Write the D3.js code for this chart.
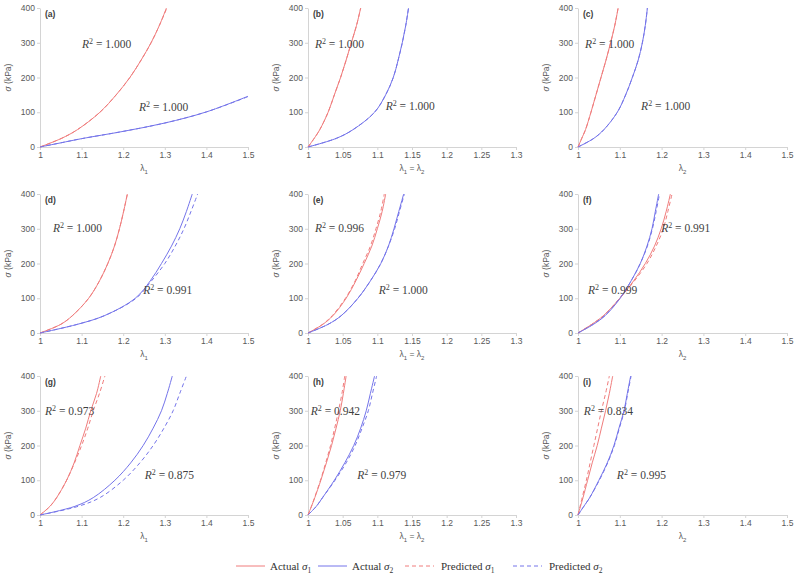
<!DOCTYPE html>
<html>
<head>
<meta charset="utf-8">
<script src="https://cdn.jsdelivr.net/npm/d3@7"></script>
<style>
  body { margin: 0; background: #fff; }
  svg { font-family: "Liberation Sans", Arial, sans-serif; }
  .tick text { fill: #595959; font-size: 8.5px; }
  .domain, .tick line { stroke: #d4d4d4; }
  .r2 { font-family: "Liberation Serif", serif; font-size: 11.5px; fill: #3f3f3f; }
  .leg { font-family: "Liberation Serif", serif; font-size: 11px; fill: #333; }
</style>
</head>
<body>
<script>
"use strict";

var sigmaGrid = [0, 25, 50, 100, 150, 200, 250, 300, 350, 400];

// panel (a): uniaxial lambda_1, blue curve stops at lambda = 1.5
var a_act1  = [1, 1.052, 1.09, 1.144, 1.183, 1.216, 1.243, 1.267, 1.287, 1.304];
var a_pred1 = [1, 1.052, 1.09, 1.144, 1.183, 1.216, 1.243, 1.267, 1.287, 1.305];
var a_lam2  = [1, 1.05, 1.1, 1.2, 1.3, 1.4, 1.5];
var a_act2  = [0, 12, 24, 45, 69, 101, 146];
var a_pred2 = [0, 12, 24, 45, 69, 101, 145];

var b_act1  = [1, 1.009, 1.017, 1.029, 1.038, 1.047, 1.055, 1.0625, 1.070, 1.076];
var b_pred1 = [1, 1.009, 1.017, 1.029, 1.038, 1.047, 1.055, 1.0625, 1.070, 1.076];
var b_act2  = [1, 1.041, 1.065, 1.096, 1.112, 1.123, 1.130, 1.136, 1.141, 1.145];
var b_pred2 = [1, 1.041, 1.065, 1.096, 1.112, 1.123, 1.130, 1.136, 1.141, 1.145];

var c_act1  = [1, 1.009, 1.018, 1.031, 1.043, 1.055, 1.067, 1.078, 1.088, 1.096];
var c_pred1 = [1, 1.009, 1.018, 1.031, 1.043, 1.055, 1.067, 1.078, 1.088, 1.096];
var c_act2  = [1, 1.038, 1.062, 1.094, 1.114, 1.130, 1.144, 1.154, 1.161, 1.166];
var c_pred2 = [1, 1.038, 1.062, 1.094, 1.114, 1.130, 1.144, 1.154, 1.161, 1.166];

var d_act1  = [1, 1.050, 1.078, 1.117, 1.143, 1.163, 1.179, 1.191, 1.201, 1.210];
var d_pred1 = [1, 1.050, 1.078, 1.117, 1.143, 1.163, 1.179, 1.191, 1.201, 1.210];
var d_act2  = [1, 1.09, 1.155, 1.229, 1.265, 1.292, 1.316, 1.336, 1.352, 1.366];
var d_pred2 = [1, 1.09, 1.155, 1.231, 1.268, 1.300, 1.325, 1.346, 1.363, 1.379];

var e_act1  = [1, 1.0215, 1.036, 1.055, 1.069, 1.081, 1.092, 1.100, 1.107, 1.112];
var e_pred1 = [1, 1.021, 1.035, 1.054, 1.068, 1.079, 1.090, 1.098, 1.105, 1.110];
var e_act2  = [1, 1.029, 1.048, 1.072, 1.090, 1.105, 1.116, 1.124, 1.131, 1.138];
var e_pred2 = [1, 1.029, 1.048, 1.072, 1.090, 1.105, 1.116, 1.125, 1.132, 1.139];

var f_act1  = [1, 1.033, 1.061, 1.100, 1.133, 1.161, 1.183, 1.199, 1.211, 1.221];
var f_pred1 = [1, 1.033, 1.061, 1.100, 1.135, 1.165, 1.187, 1.204, 1.215, 1.225];
var f_act2  = [1, 1.037, 1.065, 1.101, 1.127, 1.149, 1.165, 1.177, 1.185, 1.193];
var f_pred2 = [1, 1.036, 1.064, 1.100, 1.127, 1.149, 1.166, 1.178, 1.187, 1.195];

var g_act1  = [1, 1.024, 1.040, 1.064, 1.082, 1.096, 1.110, 1.122, 1.136, 1.146];
var g_pred1 = [1, 1.024, 1.040, 1.064, 1.083, 1.100, 1.115, 1.128, 1.143, 1.156];
var g_act2  = [1, 1.084, 1.128, 1.180, 1.218, 1.248, 1.272, 1.292, 1.306, 1.318];
var g_pred2 = [1, 1.092, 1.144, 1.200, 1.240, 1.272, 1.298, 1.320, 1.336, 1.352];

var h_act1  = [1, 1.005, 1.0098, 1.0185, 1.0265, 1.034, 1.0405, 1.0465, 1.051, 1.055];
var h_pred1 = [1, 1.005, 1.0095, 1.018, 1.0255, 1.0325, 1.0385, 1.044, 1.049, 1.053];
var h_act2  = [1, 1.012, 1.021, 1.038, 1.053, 1.066, 1.076, 1.084, 1.090, 1.096];
var h_pred2 = [1, 1.012, 1.021, 1.039, 1.055, 1.068, 1.078, 1.087, 1.093, 1.099];

var i_act1  = [1, 1.006, 1.012, 1.023, 1.034, 1.046, 1.056, 1.066, 1.075, 1.083];
var i_pred1 = [1, 1.005, 1.010, 1.020, 1.029, 1.038, 1.047, 1.056, 1.066, 1.075];
var i_act2  = [1, 1.014, 1.028, 1.050, 1.070, 1.086, 1.098, 1.110, 1.118, 1.126];
var i_pred2 = [1, 1.014, 1.028, 1.051, 1.071, 1.087, 1.099, 1.111, 1.119, 1.127];

var panelNames = ["a", "b", "c", "d", "e", "f", "g", "h", "i"];
// R^2 text: [upper label, lower label]
var r2Values = [
    ["1.000", "1.000"], ["1.000", "1.000"], ["1.000", "1.000"],
    ["1.000", "0.991"], ["0.996", "1.000"], ["0.991", "0.999"],
    ["0.973", "0.875"], ["0.942", "0.979"], ["0.834", "0.995"]
];
// where the R^2 labels sit, in (lambda, sigma)
var r2Anchors = [
    [[1.101, 285], [1.238, 104]], [[1.010, 285], [1.112, 106]], [[1.017, 285], [1.151, 106]],
    [[1.031, 290], [1.248, 113]], [[1.010, 290], [1.102, 113]], [[1.199, 290], [1.024, 113]],
    [[1.012, 288], [1.252, 104]], [[1.004, 288], [1.071, 104]], [[1.014, 288], [1.093, 104]]
];
var xDomains = [[1, 1.5], [1, 1.3], [1, 1.5]];
var yTicks = [0, 100, 200, 300, 400];
var legendLabels = ["Actual", "Actual", "Predicted", "Predicted"];

var red = "#f07c7c", blue = "#7474ea";

function zipGrid(lams, sigs) {
    return lams.map(function(l, k) { return [l, sigs[k]]; });
}

var curves = {
    a: [zipGrid(a_act1, sigmaGrid), zipGrid(a_lam2, a_act2), zipGrid(a_pred1, sigmaGrid), zipGrid(a_lam2, a_pred2)],
    b: [zipGrid(b_act1, sigmaGrid), zipGrid(b_act2, sigmaGrid), zipGrid(b_pred1, sigmaGrid), zipGrid(b_pred2, sigmaGrid)],
    c: [zipGrid(c_act1, sigmaGrid), zipGrid(c_act2, sigmaGrid), zipGrid(c_pred1, sigmaGrid), zipGrid(c_pred2, sigmaGrid)],
    d: [zipGrid(d_act1, sigmaGrid), zipGrid(d_act2, sigmaGrid), zipGrid(d_pred1, sigmaGrid), zipGrid(d_pred2, sigmaGrid)],
    e: [zipGrid(e_act1, sigmaGrid), zipGrid(e_act2, sigmaGrid), zipGrid(e_pred1, sigmaGrid), zipGrid(e_pred2, sigmaGrid)],
    f: [zipGrid(f_act1, sigmaGrid), zipGrid(f_act2, sigmaGrid), zipGrid(f_pred1, sigmaGrid), zipGrid(f_pred2, sigmaGrid)],
    g: [zipGrid(g_act1, sigmaGrid), zipGrid(g_act2, sigmaGrid), zipGrid(g_pred1, sigmaGrid), zipGrid(g_pred2, sigmaGrid)],
    h: [zipGrid(h_act1, sigmaGrid), zipGrid(h_act2, sigmaGrid), zipGrid(h_pred1, sigmaGrid), zipGrid(h_pred2, sigmaGrid)],
    i: [zipGrid(i_act1, sigmaGrid), zipGrid(i_act2, sigmaGrid), zipGrid(i_pred1, sigmaGrid), zipGrid(i_pred2, sigmaGrid)]
};
var seriesStyle = [
    { color: red, dash: null }, { color: blue, dash: null },
    { color: red, dash: "4,3" }, { color: blue, dash: "4,3" }
];

var colLeft = [40, 308, 578], colWidth = [208, 208, 209];
var rowTop = [8, 194, 376], plotH = 139;

var svg = d3.select("body").append("svg")
    .attr("width", 800).attr("height", 580);

function xTitle(g, col) {
    // lambda_1, lambda_1 = lambda_2, lambda_2
    var t = g.append("text").attr("text-anchor", "middle")
        .style("font-size", "8.5px").style("fill", "#595959");
    function lam(sub) {
        t.append("tspan").text("\u03bb");
        t.append("tspan").attr("baseline-shift", "sub").style("font-size", "6px").text(sub);
    }
    if (col === 0) lam("1");
    else if (col === 2) lam("2");
    else { lam("1"); t.append("tspan").text(" = "); lam("2"); }
    return t;
}

panelNames.forEach(function(name, idx) {
    var col = idx % 3, row = Math.floor(idx / 3);
    var w = colWidth[col];
    var g = svg.append("g")
        .attr("transform", "translate(" + colLeft[col] + "," + rowTop[row] + ")");

    var x = d3.scaleLinear().domain(xDomains[col]).range([0, w]);
    var y = d3.scaleLinear().domain([0, 400]).range([plotH, 0]);
    var step = col === 1 ? 0.05 : 0.1;
    var xt = d3.range(xDomains[col][0], xDomains[col][1] + step / 2, step);

    g.append("g").attr("transform", "translate(0," + plotH + ")")
        .call(d3.axisBottom(x).tickValues(xt).tickSizeInner(3).tickSizeOuter(0)
            .tickPadding(2).tickFormat(function(d) { return String(+d.toFixed(2)); }));
    g.append("g")
        .call(d3.axisLeft(y).tickValues(yTicks).tickSizeInner(3).tickSizeOuter(0).tickPadding(2));

    // axis titles
    xTitle(g, col).attr("x", w / 2).attr("y", plotH + 24);
    var yl = g.append("text")
        .attr("transform", "translate(-29," + (plotH / 2) + ") rotate(-90)")
        .attr("text-anchor", "middle")
        .style("font-size", "8.5px").style("fill", "#595959");
    yl.append("tspan").style("font-style", "italic").text("\u03c3");
    yl.append("tspan").text(" (kPa)");

    g.append("text").attr("x", 5).attr("y", 9)
        .style("font-size", "8.5px").style("font-weight", "bold").style("fill", "#404040")
        .text("(" + name + ")");

    var line = d3.line()
        .x(function(d) { return x(d[0]); })
        .y(function(d) { return y(d[1]); })
        .curve(d3.curveCatmullRom.alpha(0.5));

    curves[name].forEach(function(pts, k) {
        g.append("path")
            .attr("d", line(pts))
            .attr("fill", "none")
            .attr("stroke", seriesStyle[k].color)
            .attr("stroke-width", 1)
            .attr("stroke-dasharray", seriesStyle[k].dash);
    });

    r2Values[idx].forEach(function(v, k) {
        var p = r2Anchors[idx][k];
        var t = g.append("text").attr("class", "r2")
            .attr("x", x(p[0])).attr("y", y(p[1]));
        t.append("tspan").style("font-style", "italic").text("R");
        t.append("tspan").attr("dy", -4).style("font-size", "8px").text("2");
        t.append("tspan").attr("dy", 4).text(" = " + v);
    });
});

// legend
var legX = [236, 318, 405, 513];
var legend = svg.append("g").attr("transform", "translate(0,566)");
legendLabels.forEach(function(lab, k) {
    legend.append("line")
        .attr("x1", legX[k]).attr("x2", legX[k] + 29)
        .attr("y1", 0).attr("y2", 0)
        .attr("stroke", seriesStyle[k].color).attr("stroke-width", 1)
        .attr("stroke-dasharray", seriesStyle[k].dash);
    var t = legend.append("text").attr("class", "leg")
        .attr("x", legX[k] + 34 + (k > 1 ? 2 : 0)).attr("y", 3.5);
    t.append("tspan").text(lab + " ");
    t.append("tspan").style("font-style", "italic").text("\u03c3");
    t.append("tspan").attr("dy", 3).style("font-size", "7.5px").text(k % 2 === 0 ? "1" : "2");
});
</script>
</body>
</html>
